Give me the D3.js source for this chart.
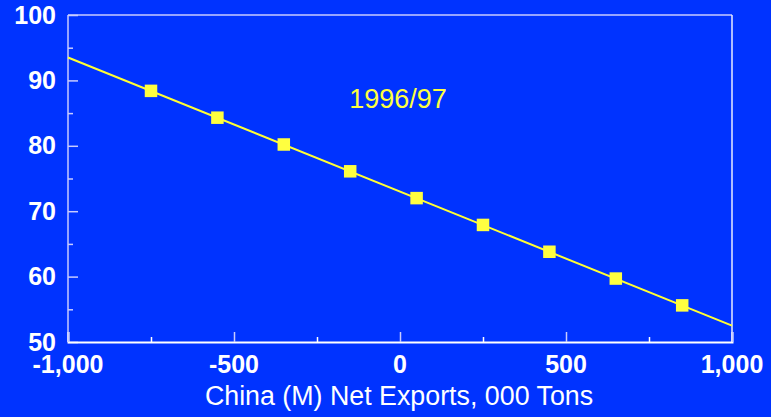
<!DOCTYPE html>
<html><head><meta charset="utf-8">
<script src="https://cdn.jsdelivr.net/npm/d3@7"></script>
<style>html,body{margin:0;padding:0;background:#0033ff;}svg{display:block;}</style>
</head><body>
<script>
const xValues = [-750, -550, -350, -150, 50, 250, 450, 650, 850];
const yValues = [88.4, 84.3, 80.2, 76.1, 72.0, 67.9, 63.8, 59.7, 55.6];
const lineX = [-1000, 1000];
const lineY = [93.5, 52.5];
const xTicks = [-1000, -500, 0, 500, 1000];
const xMinor = [-750, -250, 250, 750];
const yTicks = [50, 60, 70, 80, 90, 100];
const yMinor = [55, 65, 75, 85, 95];
const label = "1996/97";
const xTitle = "China (M) Net Exports, 000 Tons";

const W = 771, H = 417;
const m = {left: 68, right: 732, top: 15, bottom: 342};
const svg = d3.select("body").append("svg").attr("width", W).attr("height", H);
svg.append("rect").attr("width", W).attr("height", H).attr("fill", "#0033ff");

const x = d3.scaleLinear().domain([-1000, 1000]).range([m.left, m.right]);
const y = d3.scaleLinear().domain([50, 100]).range([m.bottom, m.top]);
const fmt = d => d3.format(",")(d).replace("\u2212", "-");

// frame
const frameCol = "#c8ccff";
svg.append("line").attr("x1", m.left).attr("x2", m.right).attr("y1", m.top).attr("y2", m.top)
  .attr("stroke", frameCol).attr("stroke-width", 1.5);
svg.append("line").attr("x1", m.right).attr("x2", m.right).attr("y1", m.top).attr("y2", m.bottom)
  .attr("stroke", "#e8ecff").attr("stroke-width", 1.5);
svg.append("line").attr("x1", m.left).attr("x2", m.left).attr("y1", m.top).attr("y2", m.bottom)
  .attr("stroke", frameCol).attr("stroke-width", 1.5);

// y axis
const gy = svg.append("g").attr("transform", `translate(${m.left},0)`)
  .call(d3.axisRight(y).tickValues(yTicks).tickSize(10).tickFormat(""));
gy.select(".domain").remove();
gy.selectAll("line").attr("stroke", frameCol).attr("stroke-width", 1.5);
const gy2 = svg.append("g").attr("transform", `translate(${m.left},0)`)
  .call(d3.axisRight(y).tickValues(yMinor).tickSize(5).tickFormat(""));
gy2.select(".domain").remove();
gy2.selectAll("line").attr("stroke", frameCol).attr("stroke-width", 1.5);
svg.append("g").selectAll("text").data(yTicks).join("text")
  .attr("x", 56).attr("y", d => y(d)).attr("dy", "0.34em")
  .attr("text-anchor", "end").attr("fill", "#fff")
  .attr("font-family", "Liberation Sans, Arial, sans-serif").attr("font-weight", "bold")
  .attr("font-size", 25).text(d => d);

// x axis
const gx = svg.append("g").attr("transform", `translate(0,${m.bottom})`)
  .call(d3.axisTop(x).tickValues(xTicks).tickSize(10).tickFormat(""));
gx.select(".domain").attr("stroke", "#fff").attr("stroke-width", 2);
gx.selectAll("line").attr("stroke", frameCol).attr("stroke-width", 1.5);
const gx2 = svg.append("g").attr("transform", `translate(0,${m.bottom})`)
  .call(d3.axisTop(x).tickValues(xMinor).tickSize(5).tickFormat(""));
gx2.select(".domain").remove();
gx2.selectAll("line").attr("stroke", "#fff").attr("stroke-width", 1.5);
svg.append("g").selectAll("text").data(xTicks).join("text")
  .attr("x", d => x(d)).attr("y", 373)
  .attr("text-anchor", "middle").attr("fill", "#fff")
  .attr("font-family", "Liberation Sans, Arial, sans-serif").attr("font-weight", "bold")
  .attr("font-size", 25).text(d => fmt(d));

svg.append("text").attr("x", 399).attr("y", 405).attr("text-anchor", "middle")
  .attr("fill", "#fff").attr("font-family", "Liberation Sans, Arial, sans-serif")
  .attr("font-size", 26.8).text(xTitle);

// line
const pts = lineX.map((d, i) => [d, lineY[i]]);
svg.append("path").datum(pts)
  .attr("d", d3.line().x(d => x(d[0])).y(d => y(d[1])))
  .attr("fill", "none").attr("stroke", "#ffff33").attr("stroke-width", 2);

// markers
const s = 12.5;
svg.append("g").selectAll("rect").data(xValues).join("rect")
  .attr("x", d => x(d) - s / 2).attr("y", (d, i) => y(yValues[i]) - s / 2)
  .attr("width", s).attr("height", s).attr("fill", "#ffff40");

svg.append("text").attr("x", 398).attr("y", 108).attr("text-anchor", "middle")
  .attr("fill", "#ffff40").attr("font-family", "Liberation Sans, Arial, sans-serif")
  .attr("font-size", 27).text(label);
</script>
</body></html>
